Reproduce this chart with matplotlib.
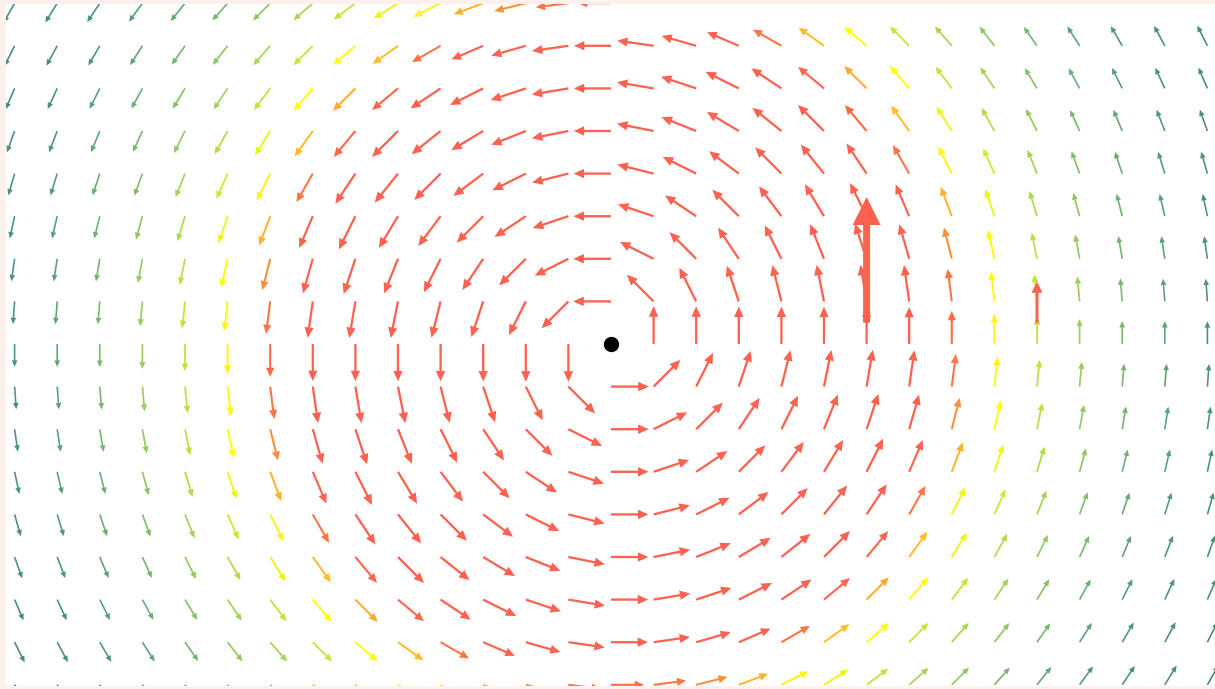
import numpy as np
import matplotlib
matplotlib.use("Agg")
import matplotlib.pyplot as plt
from matplotlib.colors import LinearSegmentedColormap

# =========================
# Data
# =========================
# grid of sample points (grid units, centre of the vortex at 0, 0)
grid_x = np.arange(-14, 15)
grid_y = np.arange(-8, 9)

# colour of an arrow by its distance from the centre (grid units)
color_r = [0.0, 7.6, 8.0, 8.25, 8.55, 8.9, 9.2, 10.0, 11.0, 12.0, 13.0, 14.0, 17.0]
color_c = ["#fd6150", "#fd6150", "#fb6c49", "#fd8e38", "#ffb52a", "#fff01a", "#ffff00",
           "#c5e23d", "#9ccf5e", "#78b86c", "#5fa477", "#4d957a", "#3f8677"]

# arrow length (pixels) by distance from the centre
length_r = [0.0, 7.0, 8.0, 9.0, 10.0, 11.0, 12.0, 20.0]
length_px = [38, 37, 33, 30, 27, 25, 23, 22]

# highlighted arrows: base x, base y, length (grid units)
hl_x = [6.0, 10.0]
hl_y = [0.5, 0.5]
hl_len = [2.95, 0.96]

PX = 42.6  # pixels per grid unit

# =========================
# Figure
# =========================
fig = plt.figure(figsize=(12.15, 6.89), dpi=100, facecolor="#fff0f0")
ax = fig.add_axes([6 / 1215, 3 / 689, 1209 / 1215, 682 / 689])
ax.set_facecolor("white")
ax.set_xlim((6 - 611) / PX, (1215 - 611) / PX)
ax.set_ylim(-(686 - 344) / PX, (344 - 4) / PX)
for s in ax.spines.values():
    s.set_visible(False)
ax.set_xticks([])
ax.set_yticks([])

# colour scale over radius
stops = [(r - color_r[0]) / (color_r[-1] - color_r[0]) for r in color_r]
cmap = LinearSegmentedColormap.from_list("vortex", list(zip(stops, color_c)))

for gx in grid_x:
    for gy in grid_y:
        r = np.hypot(gx, gy)
        if r == 0:
            continue
        Lpx = np.interp(r, length_r, length_px)
        L = Lpx / PX
        ux, uy = -gy / r, gx / r
        col = cmap(min(r, color_r[-1]) / color_r[-1])
        ax.arrow(gx, gy, ux * L, uy * L, length_includes_head=True,
                 width=(0.6 + 0.045 * Lpx) / PX, head_width=0.25 * L, head_length=0.28 * L,
                 color=col, linewidth=0, zorder=2)

# highlighted arrows
ax.arrow(hl_x[0], hl_y[0], 0, hl_len[0], length_includes_head=True,
         width=7 / PX, head_width=28 / PX, head_length=28 / PX,
         color="#fd6150", linewidth=0, zorder=3)
ax.arrow(hl_x[1], hl_y[1], 0, hl_len[1], length_includes_head=True,
         width=3 / PX, head_width=11 / PX, head_length=11 / PX,
         color="#fd6150", linewidth=0, zorder=3)

# centre of the vortex
ax.scatter([0], [0], s=100, color="black", zorder=4)

fig.savefig("out.png", dpi=100, facecolor=fig.get_facecolor())
